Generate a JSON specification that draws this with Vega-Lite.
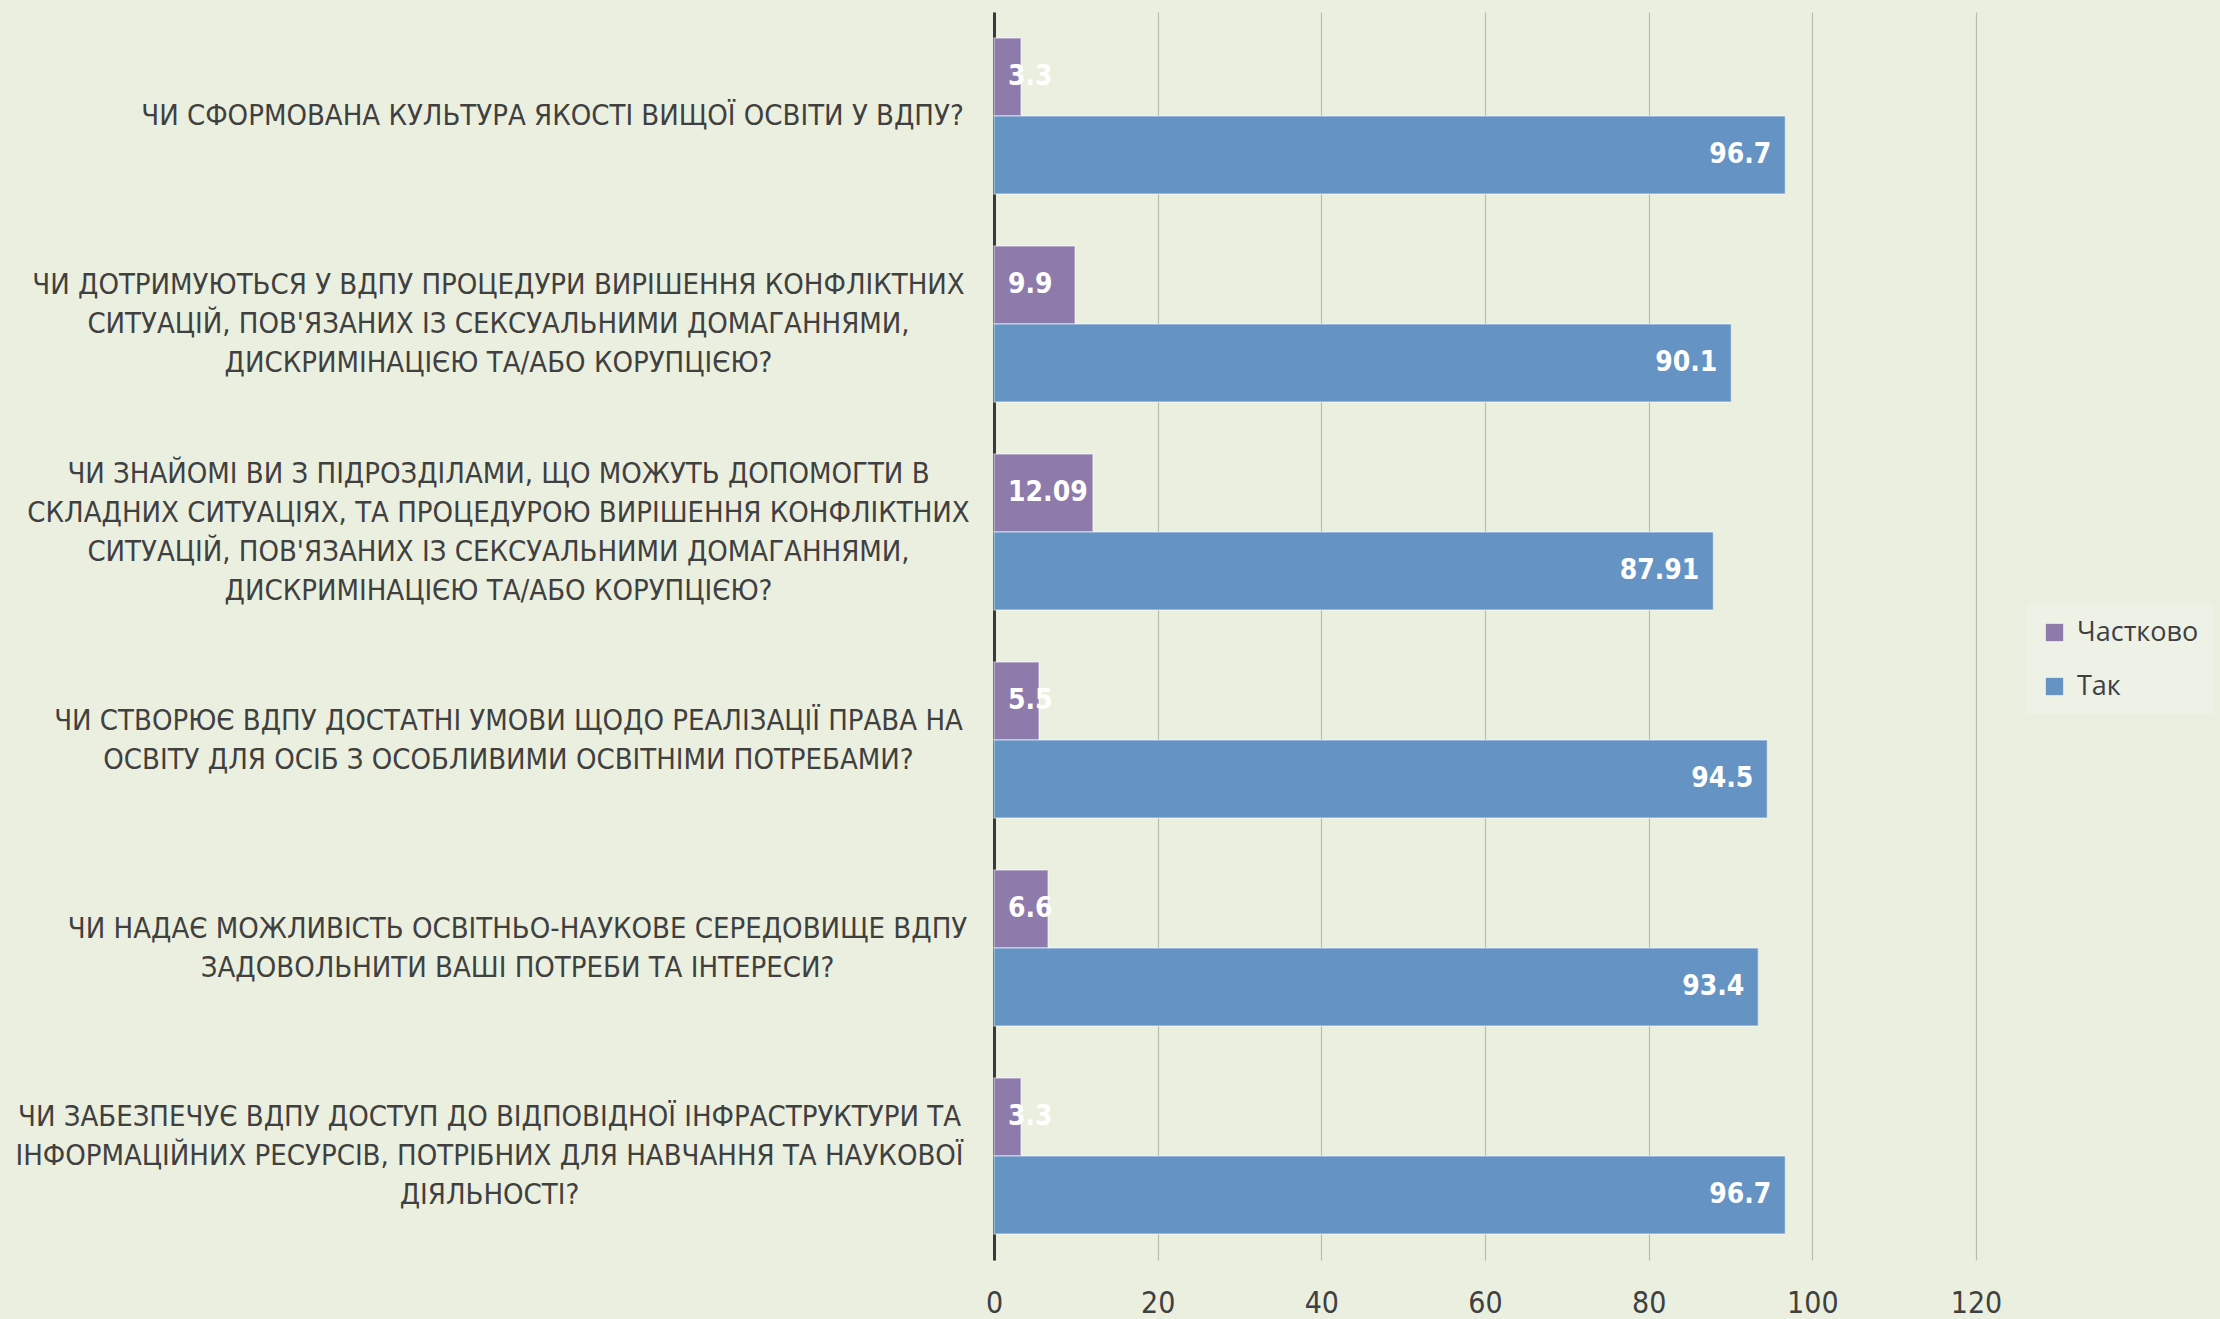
{
  "$schema": "https://vega.github.io/schema/vega-lite/v6.json",
  "autosize": "none",
  "width": 982,
  "height": 1248,
  "padding": {"left": 994, "top": 12, "right": 244, "bottom": 59},
  "background": "#EBEFDF",
  "config": {
    "view": {"stroke": null},
    "font": "Liberation Sans Narrow, DejaVu Sans Condensed, sans-serif"
  },
  "data": {
    "values": [
      {"q": "ЧИ СФОРМОВАНА КУЛЬТУРА ЯКОСТІ ВИЩОЇ ОСВІТИ У ВДПУ?", "s": "Частково", "v": 3.3},
      {"q": "ЧИ СФОРМОВАНА КУЛЬТУРА ЯКОСТІ ВИЩОЇ ОСВІТИ У ВДПУ?", "s": "Так", "v": 96.7},
      {"q": "ЧИ ДОТРИМУЮТЬСЯ У ВДПУ ПРОЦЕДУРИ ВИРІШЕННЯ КОНФЛІКТНИХ\nСИТУАЦІЙ, ПОВ'ЯЗАНИХ ІЗ СЕКСУАЛЬНИМИ ДОМАГАННЯМИ,\nДИСКРИМІНАЦІЄЮ ТА/АБО КОРУПЦІЄЮ?", "s": "Частково", "v": 9.9},
      {"q": "ЧИ ДОТРИМУЮТЬСЯ У ВДПУ ПРОЦЕДУРИ ВИРІШЕННЯ КОНФЛІКТНИХ\nСИТУАЦІЙ, ПОВ'ЯЗАНИХ ІЗ СЕКСУАЛЬНИМИ ДОМАГАННЯМИ,\nДИСКРИМІНАЦІЄЮ ТА/АБО КОРУПЦІЄЮ?", "s": "Так", "v": 90.1},
      {"q": "ЧИ ЗНАЙОМІ ВИ З ПІДРОЗДІЛАМИ, ЩО МОЖУТЬ ДОПОМОГТИ В\nСКЛАДНИХ СИТУАЦІЯХ, ТА ПРОЦЕДУРОЮ ВИРІШЕННЯ КОНФЛІКТНИХ\nСИТУАЦІЙ, ПОВ'ЯЗАНИХ ІЗ СЕКСУАЛЬНИМИ ДОМАГАННЯМИ,\nДИСКРИМІНАЦІЄЮ ТА/АБО КОРУПЦІЄЮ?", "s": "Частково", "v": 12.09},
      {"q": "ЧИ ЗНАЙОМІ ВИ З ПІДРОЗДІЛАМИ, ЩО МОЖУТЬ ДОПОМОГТИ В\nСКЛАДНИХ СИТУАЦІЯХ, ТА ПРОЦЕДУРОЮ ВИРІШЕННЯ КОНФЛІКТНИХ\nСИТУАЦІЙ, ПОВ'ЯЗАНИХ ІЗ СЕКСУАЛЬНИМИ ДОМАГАННЯМИ,\nДИСКРИМІНАЦІЄЮ ТА/АБО КОРУПЦІЄЮ?", "s": "Так", "v": 87.91},
      {"q": "ЧИ СТВОРЮЄ ВДПУ ДОСТАТНІ УМОВИ ЩОДО РЕАЛІЗАЦІЇ ПРАВА НА\nОСВІТУ ДЛЯ ОСІБ З ОСОБЛИВИМИ ОСВІТНІМИ ПОТРЕБАМИ?", "s": "Частково", "v": 5.5},
      {"q": "ЧИ СТВОРЮЄ ВДПУ ДОСТАТНІ УМОВИ ЩОДО РЕАЛІЗАЦІЇ ПРАВА НА\nОСВІТУ ДЛЯ ОСІБ З ОСОБЛИВИМИ ОСВІТНІМИ ПОТРЕБАМИ?", "s": "Так", "v": 94.5},
      {"q": "ЧИ НАДАЄ МОЖЛИВІСТЬ ОСВІТНЬО-НАУКОВЕ СЕРЕДОВИЩЕ ВДПУ\nЗАДОВОЛЬНИТИ ВАШІ ПОТРЕБИ ТА ІНТЕРЕСИ?", "s": "Частково", "v": 6.6},
      {"q": "ЧИ НАДАЄ МОЖЛИВІСТЬ ОСВІТНЬО-НАУКОВЕ СЕРЕДОВИЩЕ ВДПУ\nЗАДОВОЛЬНИТИ ВАШІ ПОТРЕБИ ТА ІНТЕРЕСИ?", "s": "Так", "v": 93.4},
      {"q": "ЧИ ЗАБЕЗПЕЧУЄ ВДПУ ДОСТУП ДО ВІДПОВІДНОЇ ІНФРАСТРУКТУРИ ТА\nІНФОРМАЦІЙНИХ РЕСУРСІВ, ПОТРІБНИХ ДЛЯ НАВЧАННЯ ТА НАУКОВОЇ\nДІЯЛЬНОСТІ?", "s": "Частково", "v": 3.3},
      {"q": "ЧИ ЗАБЕЗПЕЧУЄ ВДПУ ДОСТУП ДО ВІДПОВІДНОЇ ІНФРАСТРУКТУРИ ТА\nІНФОРМАЦІЙНИХ РЕСУРСІВ, ПОТРІБНИХ ДЛЯ НАВЧАННЯ ТА НАУКОВОЇ\nДІЯЛЬНОСТІ?", "s": "Так", "v": 96.7}
    ]
  },
  "encoding": {
    "y": {
      "field": "q",
      "type": "nominal",
      "sort": null,
      "scale": {"paddingInner": 0.25, "paddingOuter": 0.125},
      "axis": {
        "title": null,
        "ticks": false,
        "grid": false,
        "domain": true,
        "domainColor": "#3a3a3a",
        "domainWidth": 3,
        "labelExpr": "split(datum.value, '\\n')",
        "labelAlign": "center",
        "labelBaseline": "middle",
        "labelFontSize": 29,
        "labelLineHeight": 39,
        "labelColor": "#404040",
        "labelLimit": 2000,
        "labelOffset": {
          "condition": [
            {"test": "length(split(datum.value, '\\n')) == 2", "value": -19.5},
            {"test": "length(split(datum.value, '\\n')) == 3", "value": -39},
            {"test": "length(split(datum.value, '\\n')) == 4", "value": -58.5}
          ],
          "value": 0
        },
        "labelPadding": {
          "condition": [
            {"test": "indexof(datum.value, 'СФОРМОВАНА') >= 0", "value": 442},
            {"test": "indexof(datum.value, 'СТВОРЮЄ') >= 0", "value": 486},
            {"test": "indexof(datum.value, 'НАДАЄ') >= 0", "value": 477},
            {"test": "indexof(datum.value, 'ЗАБЕЗПЕЧУЄ') >= 0", "value": 505}
          ],
          "value": 496
        }
      }
    },
    "yOffset": {
      "field": "s",
      "type": "nominal",
      "sort": ["Частково", "Так"],
      "scale": {"paddingInner": 0, "paddingOuter": 0}
    }
  },
  "layer": [
    {
      "mark": {"type": "bar", "stroke": "#ffffff", "strokeOpacity": 0.45, "strokeWidth": 1.5},
      "encoding": {
        "x": {
          "field": "v",
          "type": "quantitative",
          "scale": {"domain": [0, 120], "nice": false},
          "axis": {
            "title": null,
            "values": [0, 20, 40, 60, 80, 100, 120],
            "grid": true,
            "gridColor": "#b9bdaa",
            "gridWidth": 1.2,
            "domain": false,
            "ticks": false,
            "labelFontSize": 30,
            "labelColor": "#404040",
            "labelPadding": 28,
            "labelFlush": false
          }
        },
        "color": {
          "field": "s",
          "type": "nominal",
          "scale": {"domain": ["Частково", "Так"], "range": ["#8F7AAC", "#6593C4"]},
          "legend": {
            "title": null,
            "orient": "none",
            "legendX": 1033,
            "legendY": 593,
            "fillColor": "#EEF1E6",
            "padding": 14,
            "symbolType": "square",
            "symbolSize": 300,
            "symbolStrokeWidth": 0,
            "labelFontSize": 27,
            "labelColor": "#404040",
            "labelFont": "Open Sans, DejaVu Sans, sans-serif",
            "rowPadding": 26,
            "labelOffset": 9
          }
        }
      }
    },
    {
      "transform": [{"filter": "datum.s == 'Так'"}],
      "mark": {"type": "text", "align": "right", "baseline": "middle", "dx": -14, "color": "white", "fontWeight": "bold", "fontSize": 28},
      "encoding": {
        "x": {"field": "v", "type": "quantitative"},
        "text": {"field": "v", "type": "quantitative"}
      }
    },
    {
      "transform": [{"filter": "datum.s == 'Частково'"}],
      "mark": {"type": "text", "align": "left", "baseline": "middle", "dx": 14, "color": "white", "fontWeight": "bold", "fontSize": 28},
      "encoding": {
        "x": {"datum": 0, "type": "quantitative"},
        "text": {"field": "v", "type": "quantitative"}
      }
    }
  ]
}
